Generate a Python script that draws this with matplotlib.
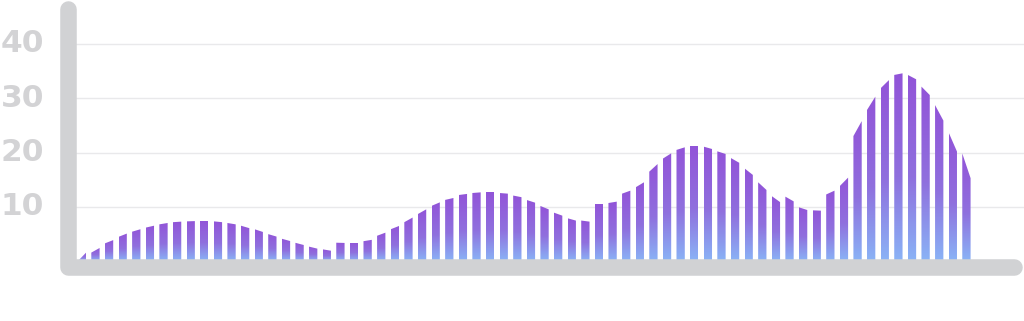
import numpy as np
import matplotlib
matplotlib.use("Agg")
import matplotlib.pyplot as plt
from matplotlib.colors import LinearSegmentedColormap
from matplotlib.lines import Line2D
from matplotlib.patches import Polygon

# height of the curve at the left and right edge of every stripe
stripe_left_top = [
    0.0, 1.6, 3.3, 4.5, 5.45, 6.2, 6.8, 7.2, 7.35, 7.4,
    7.35, 7.05, 6.55, 5.9, 5.0, 4.15, 3.4, 2.7, 2.2, 3.42,
    3.4, 3.7, 4.7, 5.9, 7.2, 8.7, 10.2, 11.3, 12.2, 12.57,
    12.69, 12.57, 12.1, 11.28, 10.18, 8.95, 7.92, 7.5, 10.55, 10.73,
    12.45, 13.62, 16.5, 18.9, 20.5, 21.3, 21.1, 20.24, 19.0, 17.1,
    14.54, 12.0, 11.9, 9.93, 9.38, 12.3, 13.85, 23.05, 27.85, 31.85,
    34.3, 34.3, 32.15, 28.75, 23.7, 19.85,
]
stripe_right_top = [
    1.58, 2.45, 3.9, 5.1, 5.9, 6.55, 7.05, 7.3, 7.4, 7.4,
    7.2, 6.8, 6.1, 5.4, 4.55, 3.73, 3.0, 2.33, 1.95, 3.38,
    3.4, 3.95, 5.27, 6.5, 8.05, 9.56, 10.85, 11.65, 12.4, 12.69,
    12.69, 12.45, 11.8, 10.79, 9.56, 8.4, 7.49, 7.3, 10.55, 10.98,
    13.0, 14.54, 17.9, 19.87, 20.98, 21.3, 20.67, 19.75, 18.13, 15.9,
    13.13, 10.9, 11.03, 9.44, 9.32, 13.0, 15.4, 25.8, 30.3, 33.35,
    34.6, 33.5, 30.6, 25.9, 20.2, 15.3,
]

y_ticks = [10, 20, 30, 40]
y_tick_labels = ["10", "20", "30", "40"]

W, H = 1024, 321
STRIPE_HALF = 0.305
AXIS_GREY = "#d1d2d4"
LABEL_GREY = "#d3d3d5"

fig = plt.figure(figsize=(W / 100, H / 100), dpi=100)
ax = fig.add_axes([76 / W, 59.7 / H, 948 / W, 260.8 / H])
ax.axis("off")

for t in y_ticks:
    ax.axhline(t, color="#e9e9eb", lw=1.0, zorder=1)

cmap = LinearSegmentedColormap.from_list(
    "stripe", [(0.0, "#8ab3f6"), (0.45, "#8f70de"), (1.0, "#9254d8")])
grad = np.linspace(0, 1, 256).reshape(-1, 1)

for i, (lt, rt) in enumerate(zip(stripe_left_top, stripe_right_top)):
    left, right = i - STRIPE_HALF, i + STRIPE_HALF
    shape = Polygon([(left, 0), (left, lt), (right, rt), (right, 0)],
                    closed=True, facecolor="none", edgecolor="none")
    ax.add_patch(shape)
    im = ax.imshow(grad, extent=[left, right, 0, max(lt, rt)], origin="lower",
                   cmap=cmap, aspect="auto", interpolation="nearest", zorder=2)
    im.set_clip_path(shape)

ax.set_xlim(-0.429, 69.23)
ax.set_ylim(0, 48)

for t, lab in zip(y_ticks, y_tick_labels):
    ax.text(-0.0564, t, lab, transform=ax.get_yaxis_transform(),
            ha="center", va="center", fontsize=22.5, fontweight="bold",
            color=LABEL_GREY, family="DejaVu Sans", clip_on=False)

# thick rounded axis frame
frame = Line2D([67.5 / W, 67.5 / W, 1014 / W],
               [(H - 8.7) / H, (H - 266.7) / H, (H - 266.7) / H],
               transform=fig.transFigure, color=AXIS_GREY, lw=11.9,
               solid_capstyle="round", solid_joinstyle="round", zorder=5)
fig.add_artist(frame)

fig.savefig("out.png", dpi=100)
